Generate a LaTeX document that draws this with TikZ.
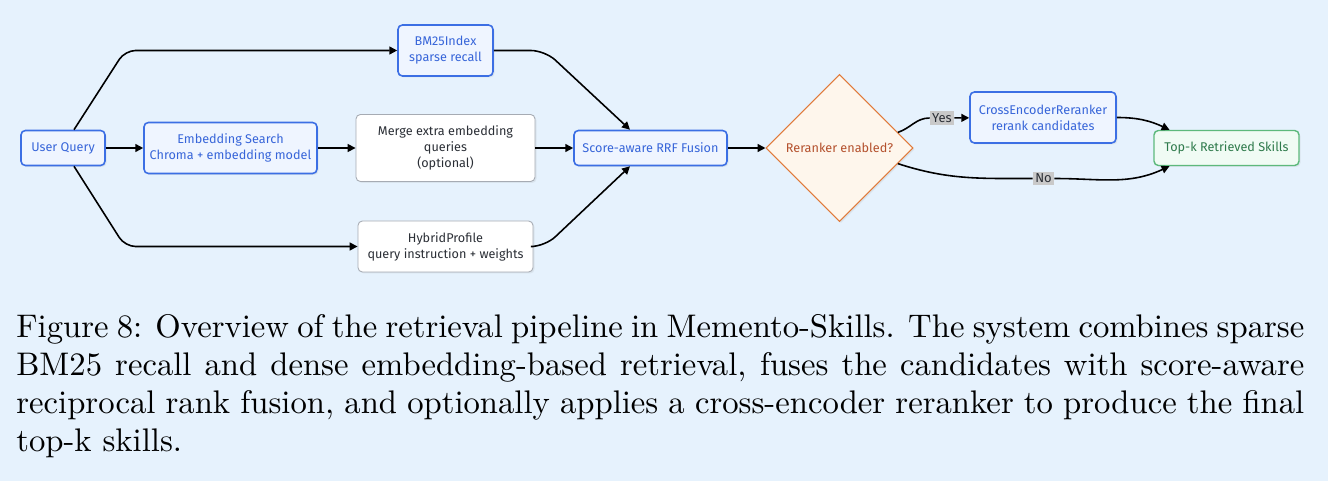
\documentclass[tikz,border=0pt]{standalone}
\usepackage{fontspec}
\newfontfamily\flowfont{Fira Sans}
\newfontfamily\capfont{lmroman10-regular}[Extension=.otf]
\usetikzlibrary{arrows.meta,shapes.geometric,shadows}

\definecolor{pagebg}{HTML}{E6F2FD}
\definecolor{blueline}{HTML}{3C6FE4}
\definecolor{bluefill}{HTML}{EFF5FF}
\definecolor{bluetext}{HTML}{3765D9}
\definecolor{grayline}{HTML}{A6ABB3}
\definecolor{graytext}{HTML}{2B2F36}
\definecolor{orangeline}{HTML}{E07A3A}
\definecolor{orangefill}{HTML}{FEF6EC}
\definecolor{orangetext}{HTML}{B4502C}
\definecolor{greenline}{HTML}{5DB97C}
\definecolor{greenfill}{HTML}{F0FBF4}
\definecolor{greentext}{HTML}{2E7A4B}
\definecolor{tagfill}{HTML}{C9C9C9}

\begin{document}
\begin{tikzpicture}[
    basebox/.style={rectangle, rounded corners=2.5pt, align=center, inner sep=1pt, font=\flowfont\fontsize{7.2}{9.1}\selectfont, drop shadow={shadow xshift=0.03cm, shadow yshift=-0.03cm, opacity=0.12}},
    bluebox/.style={basebox, draw=blueline, fill=bluefill, text=bluetext, line width=0.9pt},
    plainbox/.style={basebox, draw=grayline, fill=white, text=graytext, line width=0.5pt},
    finalbox/.style={basebox, draw=greenline, fill=greenfill, text=greentext, line width=0.8pt},
    decision/.style={diamond, aspect=1, minimum size=2.94cm, inner sep=0pt, draw=orangeline, fill=orangefill, text=orangetext, line width=0.6pt, font=\flowfont\fontsize{7.2}{9.1}\selectfont, drop shadow={shadow xshift=0.03cm, shadow yshift=-0.03cm, opacity=0.12}},
    tag/.style={rectangle, fill=tagfill, text=graytext, inner sep=1.3pt, font=\flowfont\fontsize{7.4}{9.1}\selectfont},
    caption/.style={text width=25.76cm, align=justify, inner sep=0pt, font=\capfont\fontsize{18.6}{21.6}\selectfont},
    link/.style={line width=0.9pt, black},
    arrow/.style={-{Triangle[length=4.5pt, width=4.5pt]}, line width=0.9pt, black}
]

\path[use as bounding box, fill=pagebg] (0,0) rectangle (26.56,-9.62);

% Query and first stage
\node[bluebox, minimum width=1.68cm, minimum height=0.70cm] (query) at (1.26,-2.96) {User Query};
\node[bluebox, minimum width=3.46cm, minimum height=1.02cm] (embed) at (4.61,-2.96) {Embedding Search\\Chroma + embedding model};

% Recall branches
\node[bluebox, minimum width=1.90cm, minimum height=1.02cm] (bm25) at (8.91,-1.01) {BM25Index\\sparse recall};
\node[plainbox, minimum width=3.58cm, minimum height=1.34cm] (merge) at (8.91,-2.96) {Merge extra embedding\\queries\\(optional)};
\node[plainbox, minimum width=3.50cm, minimum height=1.02cm] (hybrid) at (8.91,-4.93) {HybridProfile\\query instruction + weights};

% Fusion and reranking
\node[bluebox, minimum width=3.06cm, minimum height=0.70cm] (rrf) at (13.01,-2.96) {Score-aware RRF Fusion};
\node[decision] (gate) at (16.79,-2.96) {Reranker enabled?};
\node[bluebox, minimum width=2.92cm, minimum height=1.02cm] (rerank) at (20.86,-2.35) {CrossEncoderReranker\\rerank candidates};
\node[finalbox, minimum width=2.90cm, minimum height=0.70cm] (topk) at (24.53,-2.96) {Top-k Retrieved Skills};

% Branch labels
\node[tag] (yes) at (18.84,-2.36) {Yes};
\node[tag] (no) at (20.87,-3.57) {No};

% Bends
\coordinate (upbend) at (2.50,-1.01);
\coordinate (downbend) at (2.50,-4.93);
\coordinate (bmbend) at (10.90,-1.01);
\coordinate (hybend) at (10.90,-4.93);

% Arrows
\draw[arrow, rounded corners=6pt] ([xshift=0.22cm]query.north) -- (upbend) -- (bm25.west);
\draw[arrow] (query) -- (embed);
\draw[arrow, rounded corners=6pt] ([xshift=0.22cm]query.south) -- (downbend) -- (hybrid.west);
\draw[arrow] (embed) -- (merge);
\draw[arrow, rounded corners=8pt] (bm25.east) -- (bmbend) -- ([xshift=-0.41cm]rrf.north);
\draw[arrow] (merge) -- (rrf);
\draw[arrow, rounded corners=8pt] (hybrid.east) -- (hybend) -- ([xshift=-0.41cm]rrf.south);
\draw[arrow] (rrf) -- (gate);
\draw[link] (gate.15) to[out=18, in=180] (yes.west);
\draw[arrow] (yes) -- (rerank);
\draw[link] (gate.-15) to[out=-18, in=180] (no.west);
\draw[arrow] (no.east) to[out=0, in=205] ([xshift=-1.14cm]topk.south);
\draw[arrow] (rerank.east) to[out=0, in=155] ([xshift=-1.14cm]topk.north);

% Caption
\node[caption, anchor=north west] (cap) at (0.32,-6.28) {Figure 8: Overview of the retrieval pipeline in Memento-Skills. The system combines sparse BM25 recall and dense embedding-based retrieval, fuses the candidates with score-aware reciprocal rank fusion, and optionally applies a cross-encoder reranker to produce the final top-k skills.};

\end{tikzpicture}
\end{document}
